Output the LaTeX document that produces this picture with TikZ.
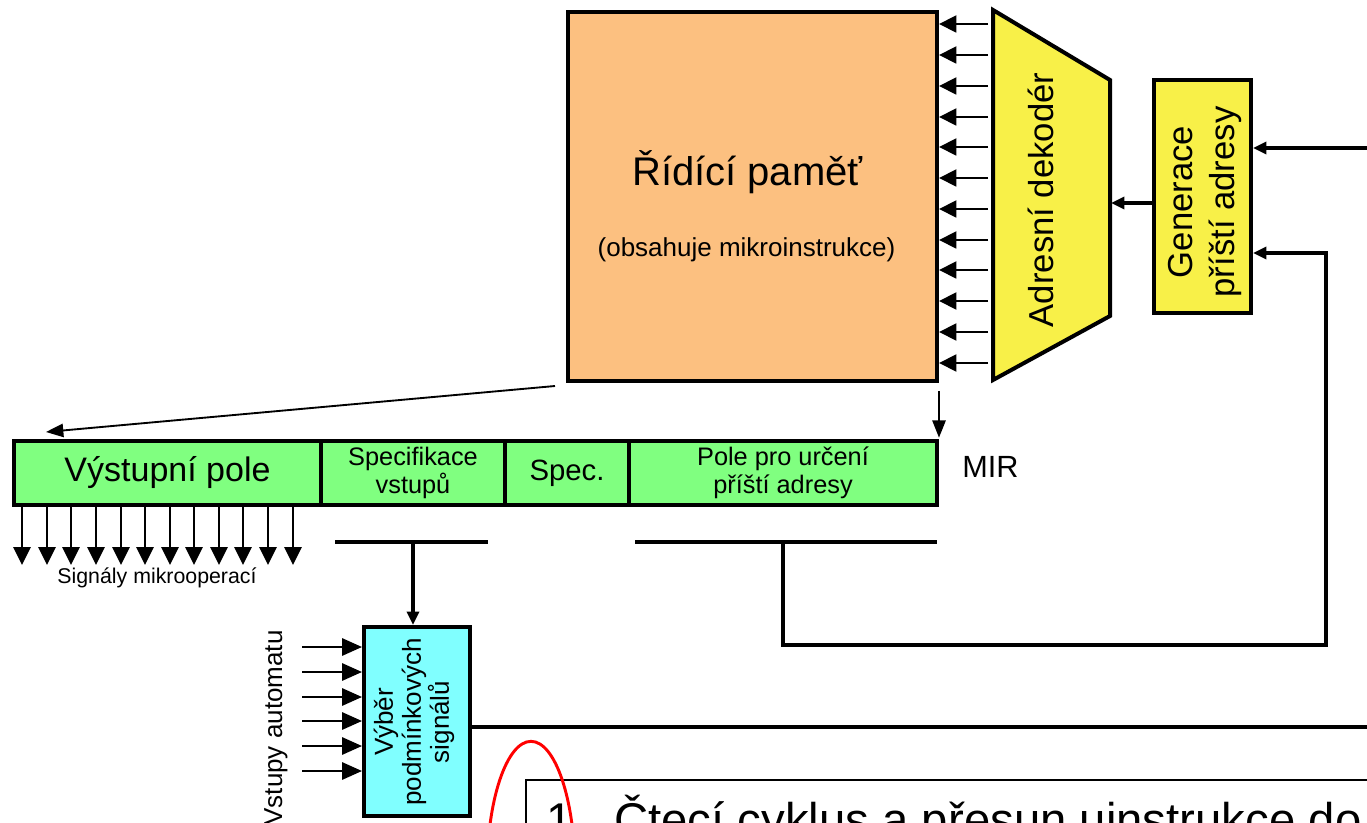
\documentclass[tikz,border=0pt]{standalone}
\usepackage{fontspec}
\setmainfont{Liberation Sans}
\usetikzlibrary{arrows.meta}
\newlength\pxu
\setlength\pxu{0.75pt}
\definecolor{memfill}{RGB}{252,192,128}
\definecolor{mirfill}{RGB}{128,255,128}
\definecolor{decfill}{RGB}{248,240,72}
\definecolor{selfill}{RGB}{128,255,255}

\begin{document}
\begin{tikzpicture}[x=0.75pt, y=-0.75pt, box/.style={draw, line width=3pt, inner sep=0pt}, field/.style={box, fill=mirfill, minimum height=64\pxu, align=center}, wire/.style={line width=2.4pt}, bigsig/.style={line width=2.2pt, -{Triangle[length=13pt, width=12.5pt]}}, outsig/.style={line width=1.6pt, -{Triangle[length=13.5pt, width=13pt]}}, insig/.style={line width=1.6pt, -{Triangle[length=15pt, width=13pt]}}, smallsig/.style={line width=2.4pt, -{Triangle[length=10pt, width=9pt]}}, thinsig/.style={line width=1.4pt, -{Triangle[length=13pt, width=10pt]}}]
	\useasboundingbox (0,0) rectangle (1367,823);
	\node[box, fill=memfill, minimum width=369\pxu, minimum height=369\pxu] (mem) at (752.5,196.5) {};
	\node[font=\fontsize{30}{34}\selectfont] (memname) at (747.5,172) {Řídící paměť};
	\node[font=\fontsize{19.5}{23}\selectfont] (memnote) at (746.5,250) {(obsahuje mikroinstrukce)};
	\draw[line width=3pt, fill=decfill] (993,10) -- (1110,80) -- (1110,316) -- (993,380) -- cycle;
	\node[rotate=90, font=\fontsize{26}{30}\selectfont] (dec) at (1041,200) {Adresní dekodér};
	\coordinate (decin) at (1111,203);
	\node[box, fill=decfill, minimum width=97\pxu, minimum height=233\pxu] (gen) at (1202.5,196.5) {};
	\node[rotate=90, align=center, font=\fontsize{26}{31}\selectfont] (gentxt) at (1205,202) {Generace\\příští adresy};
	\draw[bigsig] (988,24) -- (mem.east |- 0,24);
	\draw[bigsig] (988,55) -- (mem.east |- 0,55);
	\draw[bigsig] (988,86) -- (mem.east |- 0,86);
	\draw[bigsig] (988,117) -- (mem.east |- 0,117);
	\draw[bigsig] (988,147) -- (mem.east |- 0,147);
	\draw[bigsig] (988,178) -- (mem.east |- 0,178);
	\draw[bigsig] (988,209) -- (mem.east |- 0,209);
	\draw[bigsig] (988,240) -- (mem.east |- 0,240);
	\draw[bigsig] (988,270) -- (mem.east |- 0,270);
	\draw[bigsig] (988,301) -- (mem.east |- 0,301);
	\draw[bigsig] (988,332) -- (mem.east |- 0,332);
	\draw[bigsig] (988,363) -- (mem.east |- 0,363);
	\draw[smallsig] (gen.west |- decin) -- (decin);
	\coordinate (extin) at (1367,148);
	\draw[smallsig] (extin) -- (gen.east |- extin);
	\node[field, minimum width=307\pxu, font=\fontsize{25.5}{28}\selectfont] (outf) at (167.5,473) {Výstupní pole};
	\node[field, minimum width=184\pxu, font=\fontsize{19}{21}\selectfont] (inspec) at (413,473) {Specifikace\\vstupů};
	\node[field, minimum width=124\pxu, font=\fontsize{22}{26}\selectfont] (spec) at (567,473) {Spec.};
	\node[field, minimum width=308\pxu, font=\fontsize{19}{21}\selectfont] (nextf) at (783,473) {Pole pro určení\\příští adresy};
	\node[anchor=west, inner sep=0pt, font=\fontsize{23}{27}\selectfont] (mir) at (962,467) {MIR};
	\coordinate (memout) at (555,386);
	\coordinate (outtip) at (46,432);
	\draw[thinsig] (memout) -- (outtip);
	\draw[thinsig] ([yshift=-6pt]mem.south east) -- ([yshift=1pt]nextf.north east);
	\draw[outsig] (outf.south -| 22,0) -- ++(0,58);
	\draw[outsig] (outf.south -| 47,0) -- ++(0,58);
	\draw[outsig] (outf.south -| 71,0) -- ++(0,58);
	\draw[outsig] (outf.south -| 96,0) -- ++(0,58);
	\draw[outsig] (outf.south -| 121,0) -- ++(0,58);
	\draw[outsig] (outf.south -| 145,0) -- ++(0,58);
	\draw[outsig] (outf.south -| 170,0) -- ++(0,58);
	\draw[outsig] (outf.south -| 194,0) -- ++(0,58);
	\draw[outsig] (outf.south -| 219,0) -- ++(0,58);
	\draw[outsig] (outf.south -| 243,0) -- ++(0,58);
	\draw[outsig] (outf.south -| 268,0) -- ++(0,58);
	\draw[outsig] (outf.south -| 293,0) -- ++(0,58);
	\node[font=\fontsize{16}{19}\selectfont] (sigs) at (157,578) {Signály mikrooperací};
	\draw[line width=3pt] (335,542) -- (488,542);
	\draw[line width=3pt] (635,542) -- (937,542);
	\coordinate (isbar) at (413,544);
	\coordinate (nfbar) at (783,542);
	\node[box, fill=selfill, minimum width=106\pxu, minimum height=189\pxu] (sel) at (417,721.5) {};
	\node[rotate=90, align=center, font=\fontsize{19.5}{21}\selectfont] (seltxt) at (414,722) {Výběr\\podmínkových\\signálů};
	\draw[smallsig] (isbar) -- (sel.north -| isbar);
	\draw[insig] (302,647) -- (sel.west |- 0,647);
	\draw[insig] (302,672) -- (sel.west |- 0,672);
	\draw[insig] (302,697) -- (sel.west |- 0,697);
	\draw[insig] (302,721) -- (sel.west |- 0,721);
	\draw[insig] (302,746) -- (sel.west |- 0,746);
	\draw[insig] (302,771) -- (sel.west |- 0,771);
	\node[rotate=90, font=\fontsize{19.5}{23}\selectfont] (vstupy) at (276,728) {Vstupy automatu};
	\draw[smallsig] (nfbar) -- (783,645) -- (1326,645) -- (1326,253) -- (gen.east |- 0,253);
	\coordinate (extout) at (1367,727);
	\draw[wire, line width=3pt] (sel.east |- extout) -- (extout);
	\draw[line width=1.5pt] (1400,780) -- (526,780) -- (526,900);
	\node[anchor=base west, inner sep=0pt, font=\fontsize{35.5}{41}\selectfont] (stepno) at (546,836) {1.};
	\node[anchor=base west, inner sep=0pt, font=\fontsize{35.5}{41}\selectfont] (steptxt) at (614,836) {Čtecí cyklus a přesun uinstrukce do};
	\draw[red, line width=2.2pt] (531,872) ellipse [x radius=33pt, y radius=98pt];
\end{tikzpicture}
\end{document}
